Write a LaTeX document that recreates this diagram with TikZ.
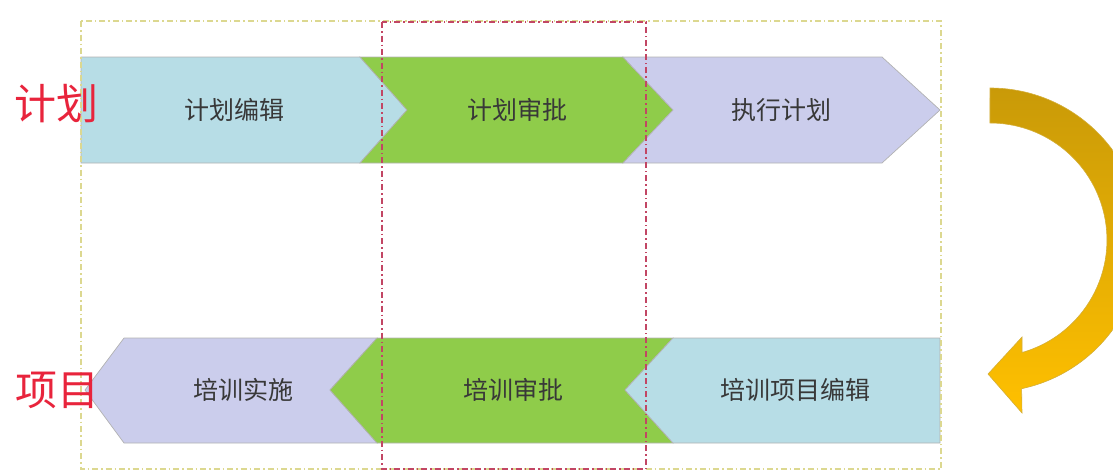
\documentclass[tikz,border=0pt]{standalone}
\usepackage{fontspec}
\newfontfamily\cjk{Noto Sans CJK SC}
\begin{document}
\begin{tikzpicture}[x=1pt,y=-1pt,
  shp/.style={draw=black!30, line width=0.7pt},
  lbl/.style={font=\cjk\fontsize{25}{25}\selectfont, text=black!78},
  side/.style={font=\cjk\fontsize{42}{42}\selectfont, text=redlbl},
  yframe/.style={draw=yframec, line width=1.2pt, dash pattern=on 6pt off 3pt on 1.5pt off 3pt},
  rframe/.style={draw=rframec, line width=1.3pt, dash pattern=on 6pt off 3pt on 1.5pt off 3pt}]
\definecolor{cblue}{HTML}{B7DDE6}
\definecolor{cgreen}{HTML}{8FCC4A}
\definecolor{cpurple}{HTML}{CBCDEC}
\definecolor{redlbl}{HTML}{E8243C}
\definecolor{yframec}{HTML}{DCD890}
\definecolor{rframec}{HTML}{C24664}
\definecolor{golddark}{HTML}{C99A08}
\definecolor{goldlight}{HTML}{FFC000}
\useasboundingbox (0,0) rectangle (1113,474);
\clip (0,0) rectangle (1113,474);
% top row
\path[shp, fill=cblue] (81,57) -- (360,57) -- (407,110) -- (360,163) -- (81,163) -- cycle;
\path[shp, fill=cgreen] (360,57) -- (623,57) -- (673,110) -- (623,163) -- (360,163) -- (407,110) -- cycle;
\path[shp, fill=cpurple] (623,57) -- (882,57) -- (940,110) -- (882,163) -- (623,163) -- (673,110) -- cycle;
% bottom row
\path[shp, fill=cpurple] (377,338) -- (124,338) -- (85,390) -- (124,443) -- (377,443) -- (330,390) -- cycle;
\path[shp, fill=cgreen] (673,338) -- (377,338) -- (330,390) -- (377,443) -- (673,443) -- (625,390) -- cycle;
\path[shp, fill=cblue] (940,338) -- (673,338) -- (625,390) -- (673,443) -- (940,443) -- cycle;
% labels
\node[lbl] (t1) at (234,110) {计划编辑};
\node[lbl] (t2) at (517,110) {计划审批};
\node[lbl] (t3) at (781,110) {执行计划};
\node[lbl] (b1) at (243,390) {培训实施};
\node[lbl] (b2) at (513,390) {培训审批};
\node[lbl] (b3) at (795,390) {培训项目编辑};
% frames
\draw[yframe] (81,21) rectangle (941,469);
\draw[rframe] (382,22) rectangle (646,469);
% side labels
\node[side] (s1) at (56,104) {计划};
\node[side] (s2) at (58,390) {项目};
% curved arrow
\path[draw=golddark!80, line width=0.6pt, top color=golddark, bottom color=goldlight]
  (990,88) arc[start angle=-90, end angle=78, radius=152]
  -- (1022,413) -- (988,374) -- (1022,337) -- (1022,352.5)
  arc[start angle=74.1, end angle=-90, radius=117] -- cycle;
\end{tikzpicture}
\end{document}
